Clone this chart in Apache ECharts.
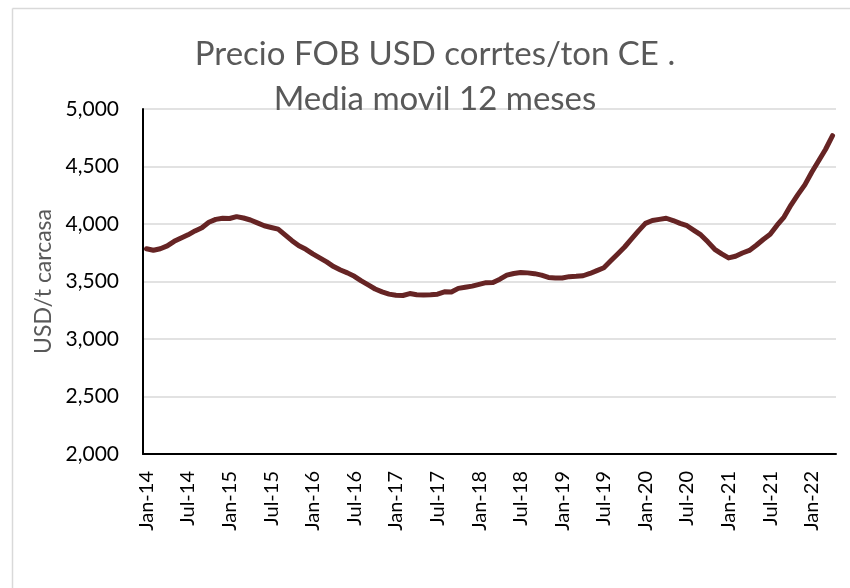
<!DOCTYPE html>
<html>
<head>
<meta charset="utf-8">
<script src="https://cdn.jsdelivr.net/npm/echarts@6/dist/echarts.min.js"></script>
<style>
  html, body { margin: 0; padding: 0; background: #fff; }
  #chart { width: 850px; height: 588px; }
</style>
</head>
<body>
<div id="chart"></div>
<script>
// meses Jan-14 .. Apr-22
var monthNames = ["Jan","Feb","Mar","Apr","May","Jun","Jul","Aug","Sep","Oct","Nov","Dec"];
var categories = [];
for (var y = 14; y <= 22; y++) {
  for (var m = 0; m < 12; m++) {
    if (y === 22 && m > 3) break;
    categories.push(monthNames[m] + "-" + y);
  }
}

// USD/t carcasa, media movil 12 meses
var precio = [
  3785, 3772, 3785, 3810, 3849, 3878, 3906, 3940, 3968, 4015, 4040, 4050,
  4048, 4064, 4052, 4035, 4010, 3985, 3970, 3955, 3905, 3855, 3810, 3780,
  3740, 3705, 3670, 3630, 3600, 3575, 3545, 3505, 3470, 3435, 3410, 3390,
  3380, 3378, 3395, 3385, 3383, 3385, 3390, 3410, 3408, 3440, 3450, 3460,
  3475, 3490, 3492, 3520, 3555, 3570, 3578, 3575, 3568, 3555, 3535, 3530,
  3530, 3542, 3545, 3550, 3570, 3595, 3620, 3680, 3740, 3800, 3870, 3940,
  4005, 4030, 4040, 4050, 4030, 4005, 3985, 3945, 3905, 3845, 3780, 3740,
  3705, 3720, 3748, 3770, 3815, 3865, 3910, 3990, 4060, 4165, 4255, 4340,
  4450, 4550, 4650, 4768
];

var yTicks = { min: 2000, max: 5000, interval: 500 };

var chart = echarts.init(document.getElementById("chart"));
var option = {
  animation: false,
  textStyle: { fontFamily: "Lato" },
  title: {
    text: "Precio FOB USD corrtes/ton CE .\nMedia movil 12 meses",
    left: 430,
    top: 27,
    textAlign: "center",
    textStyle: {
      color: "#595959",
      fontSize: 33,
      fontWeight: "normal",
      lineHeight: 45,
      fontFamily: "Lato"
    }
  },
  graphic: [
    { type: "line", shape: { x1: 12.5, y1: 8.5, x2: 850, y2: 8.5 }, style: { stroke: "#d9d9d9", lineWidth: 1.5 }, z: -1 },
    { type: "line", shape: { x1: 12.5, y1: 8.5, x2: 12.5, y2: 588 }, style: { stroke: "#d9d9d9", lineWidth: 1.5 }, z: -1 }
  ],
  grid: {
    left: 143,
    right: 14,
    top: 109,
    bottom: 134,
    containLabel: false,
    outerBoundsMode: "none"
  },
  xAxis: {
    type: "category",
    data: categories,
    boundaryGap: true,
    axisLine: { show: true, lineStyle: { color: "#000", width: 2 } },
    axisTick: { show: false },
    axisLabel: {
      interval: 5,
      rotate: 90,
      margin: 17,
      color: "#000",
      fontSize: 20,
      fontFamily: "Lato"
    },
    splitLine: { show: false }
  },
  yAxis: {
    type: "value",
    min: yTicks.min,
    max: yTicks.max,
    interval: yTicks.interval,
    name: "USD/t carcasa",
    nameLocation: "middle",
    nameRotate: 90,
    nameGap: 88,
    nameTextStyle: { color: "#595959", fontSize: 23, fontFamily: "Lato" },
    axisLine: { show: true, lineStyle: { color: "#000", width: 2 } },
    axisTick: { show: false },
    axisLabel: {
      color: "#000",
      fontSize: 21,
      margin: 24,
      fontFamily: "Lato",
      formatter: function (v) { return v.toLocaleString("en-US"); }
    },
    splitLine: { show: true, lineStyle: { color: "#d9d9d9", width: 1.5 } }
  },
  series: [
    {
      name: "Precio FOB",
      type: "line",
      data: precio,
      showSymbol: false,
      smooth: false,
      lineStyle: { color: "#662424", width: 5, cap: "round", join: "round" },
      itemStyle: { color: "#662424" }
    }
  ]
};
chart.setOption(option);
</script>
</body>
</html>
